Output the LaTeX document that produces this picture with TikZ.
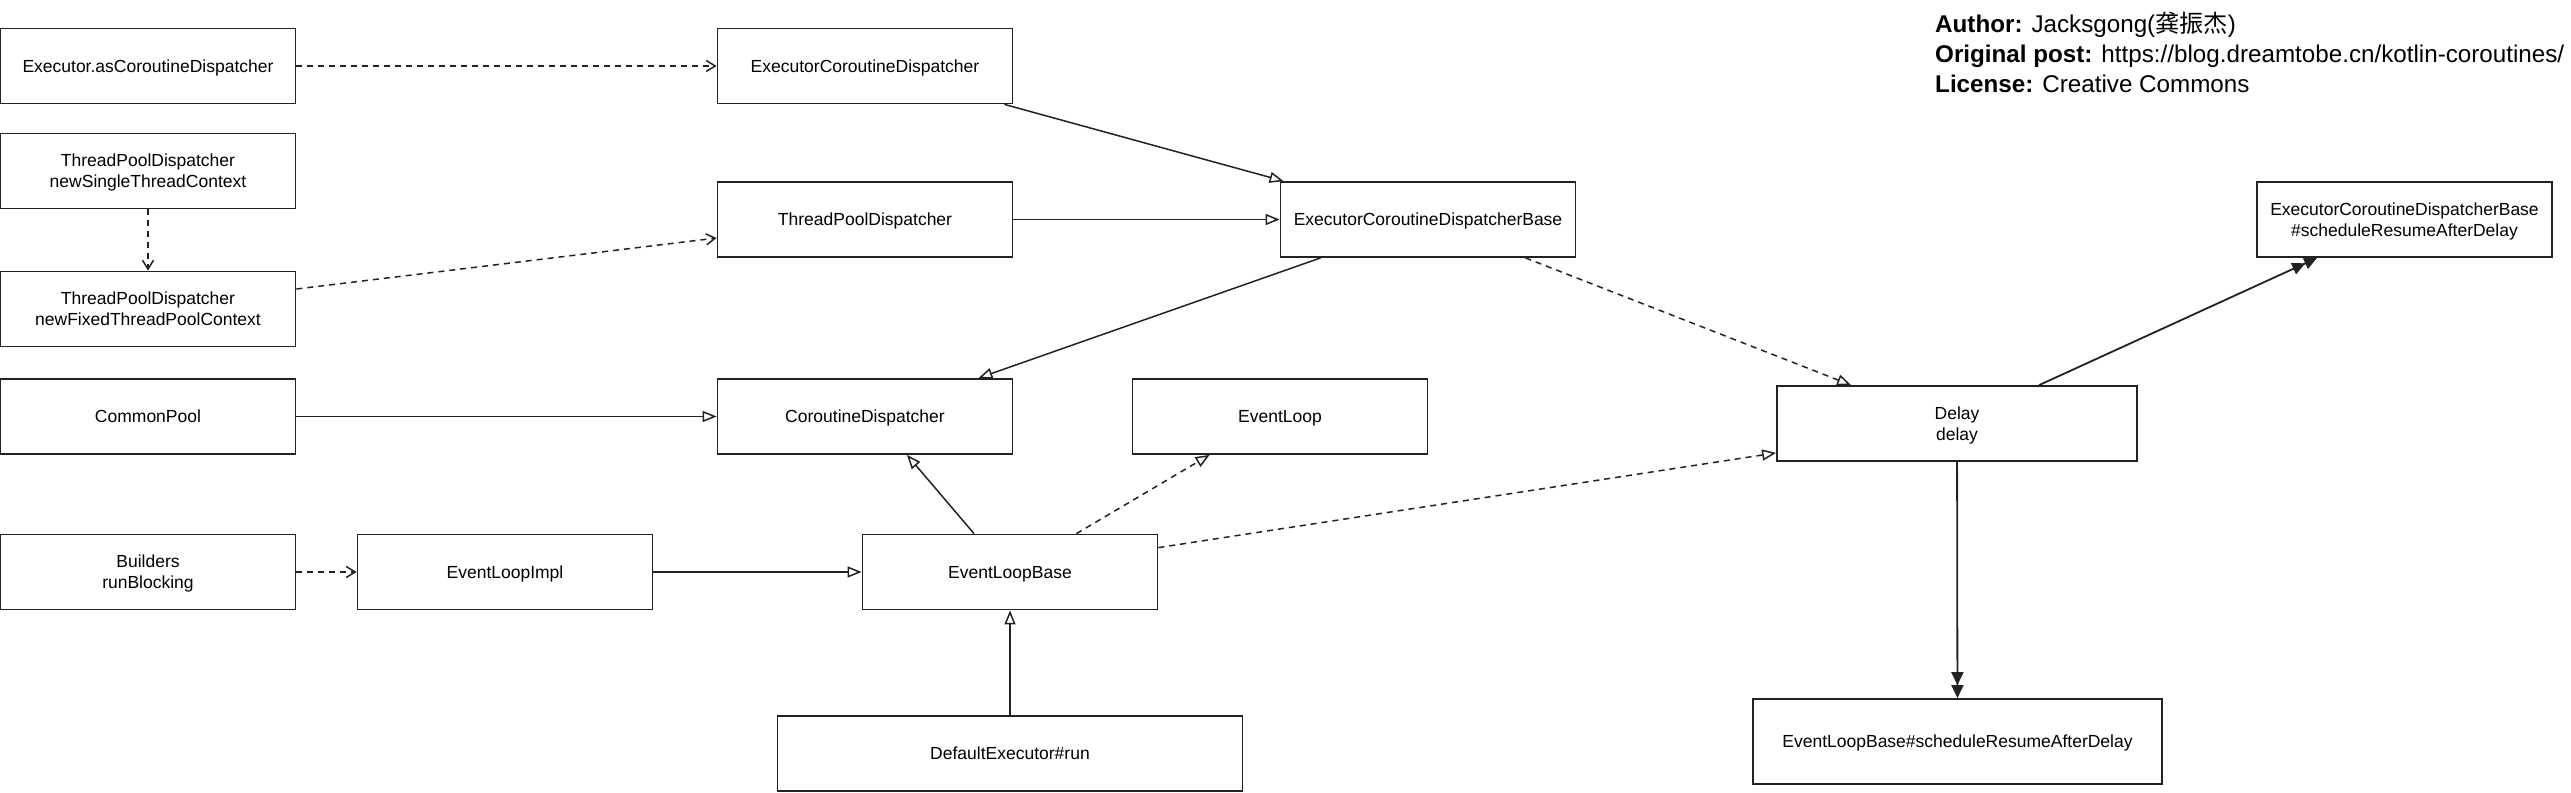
\documentclass[tikz,border=0pt]{standalone}
\usepackage{fontspec}
\setmainfont{Liberation Sans}
\newfontfamily\cjkfont{Noto Sans CJK SC}
\usepackage{tikz}
\usetikzlibrary{arrows.meta,calc}
\definecolor{linegray}{RGB}{34,34,34}

\begin{document}
\begin{tikzpicture}[
    x=1pt, y=-1pt,
    klass/.style={draw=linegray, line width=1.8pt, minimum width=295pt, minimum height=75pt, inner sep=0pt, text depth=0pt, align=center, font=\fontsize{17.5}{21}\selectfont},
    inherit/.style={draw=linegray, line width=1.5pt, -{Triangle[open,length=14pt,width=11pt,fill=white]}},
    implements/.style={inherit, dash pattern=on 6pt off 5pt},
    uses/.style={draw=linegray, line width=1.5pt, dash pattern=on 6pt off 5pt, -{Straight Barb[length=9pt,width=11pt]}},
    calls/.style={draw=linegray, line width=1.8pt, -{Triangle[length=13pt,width=12pt]Triangle[length=13pt,width=12pt]}}
]
\useasboundingbox (0,0) rectangle (2571,792);

\node[klass] (exec) at (148,66) {Executor.asCoroutineDispatcher};
\node[klass] (single) at (148,171) {ThreadPoolDispatcher\\newSingleThreadContext};
\node[klass] (fixed) at (148,309) {ThreadPoolDispatcher\\newFixedThreadPoolContext};
\node[klass] (common) at (148,416.5) {CommonPool};
\node[klass] (builders) at (148,572) {Builders\\runBlocking};
\node[klass] (impl) at (505,572) {EventLoopImpl};

\node[klass] (ecd) at (865,66) {ExecutorCoroutineDispatcher};
\node[klass] (tpd) at (865,219.5) {ThreadPoolDispatcher};
\node[klass] (cd) at (865,416.5) {CoroutineDispatcher};
\node[klass] (el) at (1280,416.5) {EventLoop};
\node[klass] (elb) at (1010,572) {EventLoopBase};
\node[klass, minimum width=465pt] (dexec) at (1010,753.5) {DefaultExecutor\#run};

\node[klass] (ecdb) at (1428,219.5) {ExecutorCoroutineDispatcherBase};
\node[klass, minimum width=360pt] (delay) at (1957,423.5) {Delay\\delay};
\node[klass] (ecdbs) at (2404.5,219.5) {ExecutorCoroutineDispatcherBase\\\#scheduleResumeAfterDelay};
\node[klass, minimum width=409pt, minimum height=85pt] (elbs) at (1957.5,741.5) {EventLoopBase\#scheduleResumeAfterDelay};

\node[anchor=north west, align=left, inner sep=0pt, font=\fontsize{24.2}{30}\selectfont] (note) at (1935,12)
  {\textbf{Author:} Jacksgong({\cjkfont 龚振杰})\\
   \textbf{Original post:} https://blog.dreamtobe.cn/kotlin-coroutines/\\
   \textbf{License:} Creative Commons};

\draw[uses] (exec) -- (ecd);
\draw[uses] (single) -- (fixed);
\draw[uses] ($(fixed.east)+(0,-20)$) -- ($(tpd.west)+(0,18.5)$);
\draw[inherit] ($(ecd.south east)+(-9,0)$) -- ($(ecdb.north west)+(4,0)$);
\draw[inherit] (tpd) -- (ecdb);
\draw[inherit] ($(ecdb.south west)+(41,0)$) -- ($(cd.north east)+(-35,0)$);
\draw[implements] ($(ecdb.south east)+(-51,0)$) -- ($(delay.north west)+(75,0)$);
\draw[inherit] (common) -- (cd);
\draw[uses] (builders) -- (impl);
\draw[inherit] (impl) -- (elb);
\draw[inherit] ($(elb.north)+(-36,0)$) -- ($(cd.south)+(42,0)$);
\draw[implements] ($(elb.north east)+(-82,0)$) -- ($(el.south west)+(78,0)$);
\draw[implements] ($(elb.north east)+(0,14)$) -- ($(delay.south west)+(0,-9)$);
\draw[inherit] (dexec) -- (elb);
\draw[calls] ($(delay.north west)+(263,0)$) -- ($(ecdbs.south west)+(61,0)$);
\draw[calls] (delay) -- (elbs);

\end{tikzpicture}
\end{document}
